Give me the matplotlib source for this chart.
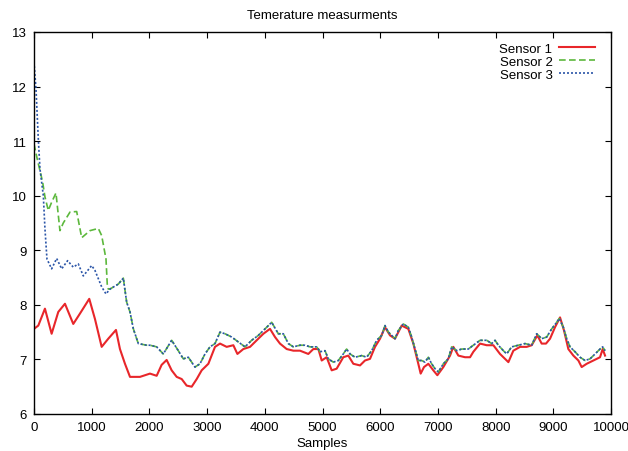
import matplotlib
matplotlib.use("Agg")
import matplotlib.pyplot as plt

# values (sample index, temperature)
red_x = [0, 75, 190, 306, 421, 537, 681, 797, 958, 1057, 1173, 1288, 1421, 1490, 1577, 1664,
         1837, 2010, 2126, 2212, 2299, 2386, 2473, 2560, 2646, 2733, 2820, 2906, 3022, 3137,
         3224, 3339, 3455, 3525, 3628, 3744, 3859, 3975, 4090, 4177, 4263, 4379, 4495, 4610,
         4754, 4841, 4928, 4986, 5072, 5159, 5245, 5360, 5447, 5534, 5650, 5736, 5823, 5910,
         5997, 6083, 6170, 6256, 6372, 6487, 6574, 6660, 6701, 6759, 6834, 6920, 6990, 7094,
         7210, 7267, 7354, 7470, 7557, 7614, 7730, 7845, 7961, 8076, 8163, 8221, 8307, 8423,
         8538, 8625, 8723, 8798, 8873, 8943, 9029, 9116, 9185, 9260, 9347, 9434, 9491, 9578,
         9694, 9809, 9855, 9896]
red_y = [7.56, 7.62, 7.93, 7.47, 7.87, 8.02, 7.65, 7.84, 8.11, 7.74, 7.23, 7.38, 7.54, 7.19, 6.92, 6.68,
         6.68, 6.74, 6.70, 6.90, 6.99, 6.80, 6.68, 6.64, 6.52, 6.50, 6.64, 6.80, 6.92, 7.23,
         7.29, 7.23, 7.26, 7.10, 7.19, 7.23, 7.35, 7.47, 7.56, 7.41, 7.29, 7.19, 7.16, 7.16,
         7.10, 7.19, 7.19, 6.98, 7.04, 6.80, 6.83, 7.04, 7.07, 6.92, 6.89, 6.98, 7.01, 7.23,
         7.38, 7.59, 7.44, 7.38, 7.62, 7.56, 7.29, 6.92, 6.74, 6.86, 6.92, 6.80, 6.71, 6.86,
         7.07, 7.23, 7.07, 7.04, 7.04, 7.14, 7.29, 7.26, 7.26, 7.10, 7.01, 6.95, 7.16, 7.23,
         7.23, 7.26, 7.44, 7.29, 7.29, 7.38, 7.59, 7.77, 7.53, 7.19, 7.07, 6.98, 6.86, 6.92,
         6.98, 7.04, 7.19, 7.07]

blue_x = [0, 35, 75, 104, 162, 190, 225, 306, 393, 480, 583, 681, 768, 855, 1000, 1057, 1173,
          1248, 1318, 1461, 1548, 1606, 1664, 1722, 1808, 1953, 2010, 2126, 2241, 2386, 2501,
          2588, 2675, 2790, 2877, 2964, 3050, 3137, 3224, 3310, 3426, 3541, 3657, 3772, 3888,
          4004, 4119, 4234, 4321, 4408, 4495, 4610, 4697, 4783, 4899, 4957, 5043, 5101, 5187,
          5274, 5360, 5418, 5477, 5563, 5679, 5765, 5852, 5939, 6026, 6083, 6141, 6256, 6314,
          6400, 6487, 6545, 6603, 6660, 6718, 6776, 6834, 6891, 6949, 7007, 7094, 7180, 7238,
          7325, 7412, 7527, 7614, 7730, 7845, 7932, 7990, 8047, 8134, 8191, 8278, 8394, 8509,
          8625, 8712, 8798, 8885, 8972, 9058, 9104, 9173, 9231, 9289, 9376, 9463, 9549, 9636,
          9723, 9809, 9855, 9896]
blue_y = [12.45, 11.96, 11.04, 10.49, 10.0, 9.40, 8.84, 8.66, 8.85, 8.66, 8.81, 8.69, 8.75, 8.53, 8.72, 8.63, 8.33,
          8.20, 8.29, 8.38, 8.49, 8.05, 7.87, 7.56, 7.29, 7.26, 7.26, 7.23, 7.10, 7.35, 7.16,
          7.01, 7.04, 6.86, 6.92, 7.10, 7.23, 7.29, 7.50, 7.47, 7.41, 7.32, 7.23, 7.35, 7.44,
          7.56, 7.68, 7.47, 7.47, 7.29, 7.23, 7.26, 7.26, 7.23, 7.23, 7.14, 7.16, 7.01, 6.95,
          6.98, 7.10, 7.19, 7.10, 7.04, 7.07, 7.04, 7.16, 7.35, 7.44, 7.62, 7.50, 7.38, 7.53,
          7.65, 7.59, 7.41, 7.19, 6.98, 6.98, 6.95, 7.04, 6.92, 6.83, 6.77, 6.92, 7.01, 7.23,
          7.16, 7.19, 7.19, 7.26, 7.35, 7.35, 7.29, 7.35, 7.26, 7.16, 7.10, 7.23, 7.26, 7.29,
          7.26, 7.47, 7.38, 7.41, 7.56, 7.68, 7.75, 7.59, 7.38, 7.23, 7.14, 7.04, 6.98, 7.01,
          7.10, 7.19, 7.23, 7.16]

# sensor 2 runs on its own until ~1300 samples, then follows sensor 3
green_head_x = [0, 57, 150, 190, 248, 306, 381, 450, 508, 624, 740, 827, 971, 1115, 1173, 1248, 1271, 1288]
green_head_y = [10.95, 10.67, 10.25, 9.98, 9.73, 9.88, 10.05, 9.36, 9.50, 9.70, 9.71, 9.23, 9.36, 9.40, 9.27, 8.84, 8.35, 8.29]
green_x = green_head_x + blue_x[18:]
green_y = green_head_y + blue_y[18:]

plt.rcParams['font.family'] = ['Liberation Sans', 'DejaVu Sans']

fig = plt.figure(figsize=(6.28, 4.52), dpi=100)
ax = fig.add_axes([0.0541, 0.0819, 0.9189, 0.8451])

ax.plot(red_x, red_y, color='#e8262a', lw=1.5, label='Sensor 1')
ax.plot(green_x, green_y, color='#5cb83c', lw=1.2, ls=(0, (4, 2)), label='Sensor 2')
ax.plot(blue_x, blue_y, color='#2b55a8', lw=1.2, ls=(0, (1.2, 1.2)), label='Sensor 3')

ax.set_xlim(0, 10000)
ax.set_ylim(6, 13)
ax.set_xticks(range(0, 10001, 1000))
ax.set_yticks(range(6, 14))
ax.tick_params(direction='in', length=4, labelsize=9.5, top=True, right=True, pad=5)
for sp in ax.spines.values():
    sp.set_linewidth(1.0)

ax.set_title('Temerature measurments', fontsize=9.5, pad=10)
ax.set_xlabel('Samples', fontsize=9.5, labelpad=3)

ax.legend(loc='upper right', bbox_to_anchor=(0.99, 1.0), frameon=False, markerfirst=False,
          fontsize=9.5, handlelength=2.7, handletextpad=0.5, labelspacing=0.05, borderpad=0.3)

fig.savefig('out.png', dpi=100)
